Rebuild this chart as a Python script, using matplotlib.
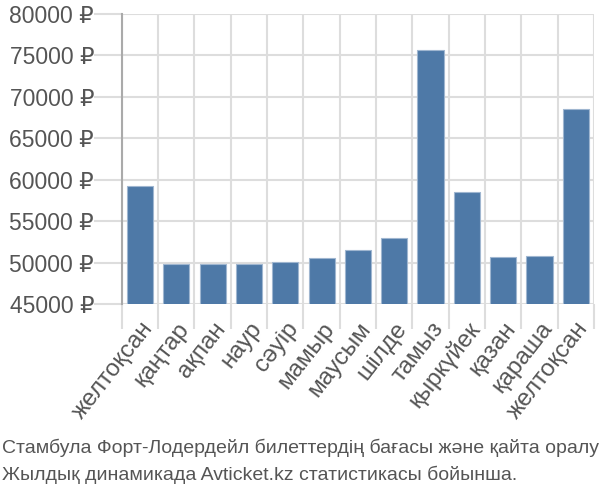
import numpy as np
import matplotlib.pyplot as plt

months = ["желтоқсан", "қаңтар", "ақпан", "наур", "сәуір", "мамыр", "маусым",
          "шілде", "тамыз", "қыркүйек", "қазан", "қараша", "желтоқсан"]
prices = [59200, 49800, 49800, 49800, 50100, 50500, 51500,
          53000, 75600, 58500, 50700, 50800, 68500]
yticks = [45000, 50000, 55000, 60000, 65000, 70000, 75000, 80000]
caption = ("Стамбула Форт-Лодердейл билеттердің бағасы және қайта оралу\n"
           "Жылдық динамикада Avticket.kz статистикасы бойынша.")

plt.rcParams['font.family'] = ['Liberation Sans', 'DejaVu Sans']
txt = '#555555'

fig = plt.figure(figsize=(6, 5), dpi=100)
ax = fig.add_axes([0.203, 0.392, 0.787, 0.58])

x = np.arange(len(months))
ax.bar(x, prices, width=0.72, color='#4e79a7', edgecolor='#9fb6d0', linewidth=0.8, zorder=3)

ax.set_xlim(-0.5, len(months) - 0.5)
ax.set_ylim(45000, 80000)
ax.set_yticks(yticks)
ax.set_yticklabels([f"{v} ₽" for v in yticks], fontsize=16.5, color=txt)

ax.set_xticks(x)
ax.set_xticklabels(months, rotation=52, ha='right', rotation_mode='anchor',
                   fontsize=17.5, color=txt)
ax.tick_params(axis='x', length=0, pad=10)
ax.set_xticks(np.arange(-0.5, len(months)), minor=True)
ax.tick_params(axis='x', which='minor', length=18, color='#dddddd', width=1.5)
ax.tick_params(axis='y', length=20, color='#dddddd', width=1.5, pad=0)

ax.grid(axis='y', color='#dddddd', linewidth=1.5, zorder=0)
ax.grid(axis='x', which='minor', color='#dddddd', linewidth=1.5, zorder=0)

for s in ['top', 'right', 'bottom']:
    ax.spines[s].set_visible(False)
ax.spines['left'].set_color('#aaaaaa')
ax.spines['left'].set_linewidth(1.5)

fig.text(0.003, 0.032, caption, ha='left', va='bottom', fontsize=14, color=txt,
         linespacing=1.6)

fig.savefig('out.png', dpi=100)
